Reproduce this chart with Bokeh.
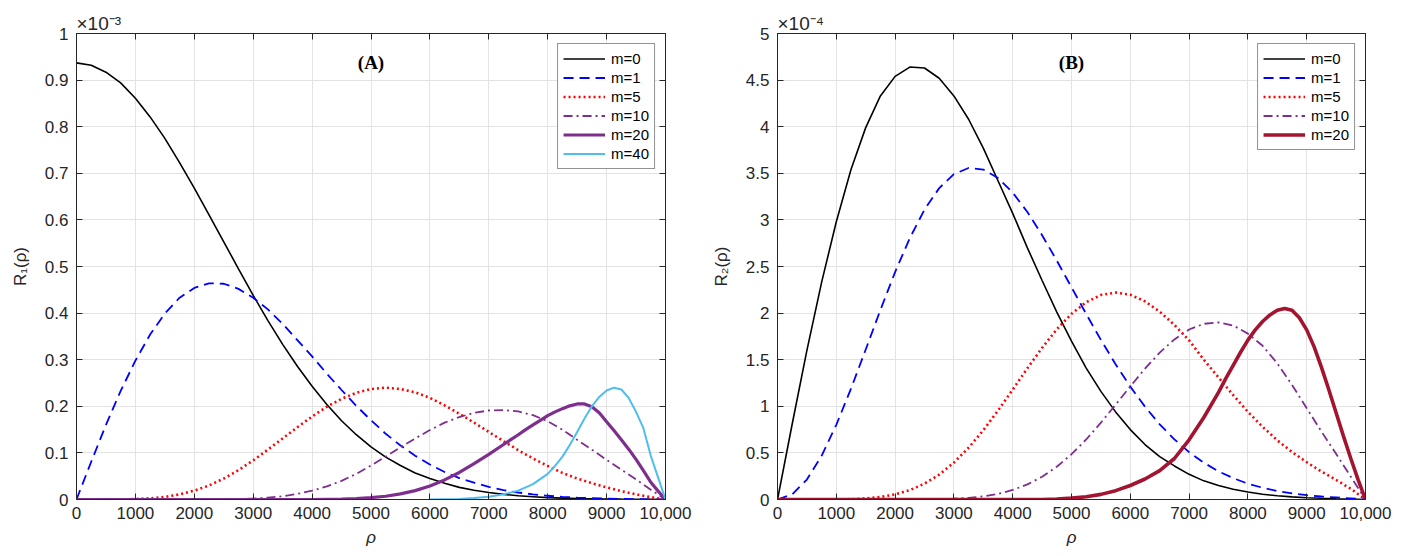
from bokeh.plotting import figure
from bokeh.layouts import row
from bokeh.models import (Legend, LegendItem, LinearAxis, FixedTicker,
                          CustomJSTickFormatter, Label, Range1d, Title)
from bokeh.embed import file_html
from bokeh.resources import INLINE

# ---------------- data ----------------
rho = list(range(0, 10001, 250))
rho_a40 = [6000, 6250, 6500, 6750, 7000, 7250, 7500, 7750, 8000, 8125, 8250, 8375,
           8500, 8625, 8750, 8875, 9000, 9125, 9250, 9375, 9500, 9625, 9750, 9875, 10000]
rho_m20 = list(range(0, 7500, 250)) + list(range(7500, 10001, 125))

# Panel A, values in units of 1e-3
a_m0 = [0.937, 0.932, 0.917, 0.894, 0.861, 0.821, 0.775, 0.723, 0.668, 0.611, 0.553,
        0.495, 0.438, 0.384, 0.333, 0.286, 0.243, 0.204, 0.169, 0.139, 0.113, 0.091,
        0.073, 0.057, 0.045, 0.035, 0.026, 0.020, 0.015, 0.011, 0.008, 0.006, 0.004,
        0.003, 0.002, 0.0015, 0.001, 0.0007, 0.0005, 0.0003, 0.0]
a_m1 = [0.0, 0.081, 0.160, 0.233, 0.298, 0.354, 0.399, 0.433, 0.454, 0.464, 0.463,
        0.452, 0.433, 0.408, 0.377, 0.342, 0.307, 0.270, 0.235, 0.201, 0.170, 0.141,
        0.116, 0.094, 0.075, 0.059, 0.046, 0.036, 0.027, 0.020, 0.015, 0.011, 0.008,
        0.0057, 0.004, 0.0028, 0.0019, 0.0013, 0.0008, 0.0004, 0.0]
a_m5 = [0.0, 0.0, 0.0, 0.0002, 0.001, 0.0025, 0.0055, 0.011, 0.019, 0.030, 0.045,
        0.063, 0.084, 0.107, 0.131, 0.155, 0.178, 0.199, 0.216, 0.229, 0.237, 0.240,
        0.237, 0.230, 0.218, 0.202, 0.184, 0.165, 0.145, 0.125, 0.106, 0.088, 0.072,
        0.057, 0.045, 0.035, 0.026, 0.018, 0.011, 0.005, 0.0]
a_m10 = [0.0, 0.0, 0.0, 0.0, 0.0, 0.0, 0.0, 0.0, 0.0001, 0.0002, 0.0005, 0.001,
         0.002, 0.004, 0.007, 0.012, 0.019, 0.028, 0.040, 0.055, 0.073, 0.092, 0.112,
         0.131, 0.149, 0.165, 0.177, 0.186, 0.191, 0.192, 0.189, 0.181, 0.168, 0.150,
         0.128, 0.107, 0.085, 0.064, 0.043, 0.021, 0.0]
a_m20 = [0.0] * 17 + [0.0005, 0.001, 0.002, 0.004, 0.007, 0.012, 0.019, 0.029, 0.042,
                      0.058, 0.077, 0.097, 0.118,
                      0.139, 0.150, 0.160, 0.170, 0.180, 0.188, 0.195, 0.201, 0.205,
                      0.205, 0.199, 0.186, 0.167, 0.148, 0.128, 0.108, 0.086, 0.062,
                      0.037, 0.018, 0.0]
a_m40 = [0.0, 0.0005, 0.001, 0.003, 0.006, 0.011, 0.019, 0.033, 0.055, 0.072, 0.092,
         0.117, 0.145, 0.174, 0.200, 0.220, 0.234, 0.240, 0.236, 0.218, 0.188, 0.153,
         0.094, 0.047, 0.0]

# Panel B, values in units of 1e-4
b_m0 = [0.0, 0.81, 1.60, 2.33, 2.98, 3.54, 3.99, 4.33, 4.54, 4.64, 4.63, 4.52, 4.33,
        4.08, 3.77, 3.42, 3.07, 2.70, 2.35, 2.01, 1.70, 1.41, 1.16, 0.94, 0.75, 0.59,
        0.46, 0.36, 0.27, 0.20, 0.15, 0.11, 0.08, 0.057, 0.04, 0.028, 0.019, 0.013,
        0.008, 0.004, 0.0]
b_m1 = [0.0, 0.055, 0.214, 0.469, 0.801, 1.189, 1.609, 2.034, 2.440, 2.805, 3.110,
        3.341, 3.491, 3.557, 3.540, 3.449, 3.293, 3.084, 2.836, 2.563, 2.277, 1.990,
        1.713, 1.451, 1.211, 0.996, 0.806, 0.645, 0.508, 0.395, 0.302, 0.229, 0.170,
        0.126, 0.091, 0.065, 0.046, 0.032, 0.022, 0.012, 0.0]
b_m5 = [0.0, 0.0, 0.0, 0.0002, 0.001, 0.004, 0.011, 0.027, 0.055, 0.101, 0.170,
        0.267, 0.396, 0.555, 0.743, 0.954, 1.179, 1.408, 1.627, 1.826, 1.992, 2.117,
        2.194, 2.220, 2.197, 2.126, 2.016, 1.873, 1.707, 1.500, 1.310, 1.120, 0.940,
        0.780, 0.635, 0.510, 0.400, 0.300, 0.210, 0.115, 0.0]
b_m10 = [0.0] * 10 + [0.0015, 0.004, 0.009, 0.018, 0.034, 0.061, 0.102, 0.162, 0.244,
                      0.352, 0.486, 0.644, 0.824, 1.017, 1.214, 1.404, 1.576, 1.718,
                      1.824, 1.885, 1.900, 1.867, 1.780, 1.650, 1.460, 1.230, 0.980,
                      0.730, 0.490, 0.245, 0.0]
b_m20 = [0.0] * 19 + [0.005, 0.015, 0.030, 0.055, 0.095, 0.150, 0.220, 0.310, 0.440,
                      0.640, 0.880,
                      1.150, 1.300, 1.440, 1.580, 1.710, 1.820, 1.910, 1.980, 2.030,
                      2.050, 2.030, 1.950, 1.820, 1.640, 1.420, 1.180, 0.930, 0.680,
                      0.440, 0.210, 0.0]

x_ticks = [0, 1000, 2000, 3000, 4000, 5000, 6000, 7000, 8000, 9000, 10000]
a_ticks = [0, 0.1, 0.2, 0.3, 0.4, 0.5, 0.6, 0.7, 0.8, 0.9, 1.0]
b_ticks = [0, 0.5, 1, 1.5, 2, 2.5, 3, 3.5, 4, 4.5, 5]

FONT = "Liberation Sans"
AX = "#262626"
GRID = "#e3e3e3"


def make_fig(ymax, yticks, ylabel, mult, title, title_y, left_b, right_b, fw):
    p = figure(frame_width=fw, frame_height=466,
               x_range=Range1d(0, 10000), y_range=Range1d(0, ymax),
               output_backend="svg", toolbar_location=None,
               min_border_left=left_b, min_border_right=right_b,
               min_border_top=33, min_border_bottom=52)
    p.outline_line_color = AX
    p.background_fill_color = "white"
    p.border_fill_color = "white"
    xt = FixedTicker(ticks=x_ticks)
    yt = FixedTicker(ticks=yticks)
    p.xaxis.ticker = xt
    p.yaxis.ticker = yt
    p.xgrid.ticker = xt
    p.ygrid.ticker = yt
    p.xgrid.grid_line_color = GRID
    p.ygrid.grid_line_color = GRID
    p.xaxis.formatter = CustomJSTickFormatter(
        code="return tick >= 9999 ? '10,000' : tick.toFixed(0);")
    p.yaxis.formatter = CustomJSTickFormatter(
        code="return String(+tick.toFixed(2));")
    for ax in (p.xaxis[0], p.yaxis[0]):
        ax.major_tick_in = 6
        ax.major_tick_out = 0
        ax.minor_tick_line_color = None
        ax.axis_line_color = AX
        ax.major_tick_line_color = AX
        ax.major_label_text_font = FONT
        ax.major_label_text_font_size = "17px"
        ax.major_label_text_color = AX
        ax.axis_label_text_font = FONT
        ax.axis_label_text_font_size = "17px"
        ax.axis_label_text_color = AX
    p.xaxis.axis_label = "ρ"
    p.xaxis.axis_label_text_font_style = "italic"
    p.xaxis.major_label_standoff = 7
    p.xaxis.axis_label_standoff = 6
    p.yaxis.axis_label = ylabel
    p.yaxis.axis_label_text_font_style = "normal"
    p.yaxis.major_label_standoff = 8
    p.yaxis.axis_label_standoff = 12
    # box ticks on top and right (no labels drawn)
    top = LinearAxis(ticker=xt, major_tick_in=6, major_tick_out=0,
                     minor_tick_line_color=None, axis_line_color=AX,
                     major_tick_line_color=AX, major_label_text_color=None,
                     major_label_standoff=0)
    right = LinearAxis(ticker=yt, major_tick_in=6, major_tick_out=0,
                       minor_tick_line_color=None, axis_line_color=AX,
                       major_tick_line_color=AX, major_label_text_color=None,
                       major_label_standoff=0)
    p.add_layout(top, "above")
    p.add_layout(right, "right")
    # multiplier as title above the frame, left aligned
    p.add_layout(Title(text=mult, align="left", text_font=FONT,
                       text_font_size="19px", text_font_style="normal",
                       text_color=AX, offset=0, standoff=0), "above")
    # panel title
    p.add_layout(Label(x=5000, y=title_y, text=title, text_font="Liberation Serif",
                       text_font_style="bold", text_font_size="19px",
                       text_color="black", text_baseline="middle", text_align="center"))
    return p


pa = make_fig(1.0, a_ticks, "R₁(ρ)", "×10⁻³", "(A)", 0.938, 76, 43, 589)
pb = make_fig(5.0, b_ticks, "R₂(ρ)", "×10⁻⁴", "(B)", 4.69, 68, 28, 588)

ra = []
ra.append(pa.line(rho, a_m0, line_color="black", line_width=1.6))
ra.append(pa.line(rho, a_m1, line_color="#0000ff", line_width=1.8, line_dash="10 6"))
ra.append(pa.line(rho, a_m5, line_color="#ff0000", line_width=2.6, line_dash="2 3"))
ra.append(pa.line(rho, a_m10, line_color="#7e2f8e", line_width=1.8, line_dash="9 4 2 4"))
ra.append(pa.line(rho_m20, a_m20, line_color="#7e2f8e", line_width=3.2))
ra.append(pa.line(rho_a40, a_m40, line_color="#4dbeee", line_width=2.0))

rb = []
rb.append(pb.line(rho, b_m0, line_color="black", line_width=1.6))
rb.append(pb.line(rho, b_m1, line_color="#0000ff", line_width=1.8, line_dash="10 6"))
rb.append(pb.line(rho, b_m5, line_color="#ff0000", line_width=2.6, line_dash="2 3"))
rb.append(pb.line(rho, b_m10, line_color="#7e2f8e", line_width=1.8, line_dash="9 4 2 4"))
rb.append(pb.line(rho_m20, b_m20, line_color="#a2142f", line_width=3.6))

labels_a = ["m=0", "m=1", "m=5", "m=10", "m=20", "m=40"]
labels_b = ["m=0", "m=1", "m=5", "m=10", "m=20"]


def add_legend(p, rends, labels):
    items = [LegendItem(label=lab, renderers=[r]) for r, lab in zip(rends, labels)]
    lg = Legend(items=items, location="top_right", margin=10, padding=5,
                spacing=0, label_height=19, glyph_height=19, glyph_width=42,
                label_standoff=6, label_text_font=FONT, label_text_font_size="15px",
                label_text_color="black", border_line_color=AX, border_line_width=1,
                background_fill_color="white", background_fill_alpha=1.0)
    p.add_layout(lg)


add_legend(pa, ra, labels_a)
add_legend(pb, rb, labels_b)

layout = row(pa, pb)
open("out.html", "w").write(file_html(layout, INLINE))
